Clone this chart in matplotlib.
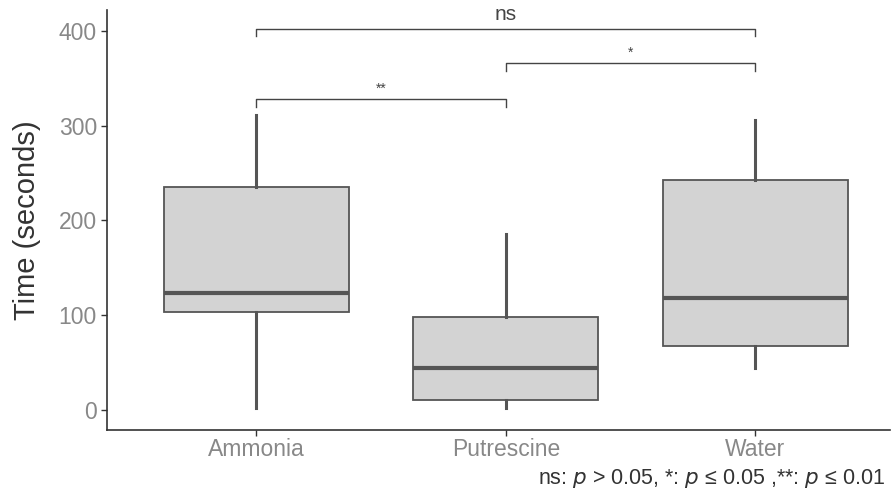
import matplotlib.pyplot as plt

plt.rcParams['font.family'] = ['Liberation Sans', 'DejaVu Sans']

# box statistics
groups = ['Ammonia', 'Putrescine', 'Water']
whis_lo = [2, 2, 44]
q1 = [103, 10.5, 67.5]
med = [123.5, 44, 118]
q3 = [235, 98, 243]
whis_hi = [311, 186, 306]

# significance brackets: (left group, right group, height, label)
pairs = [(1, 2, 328, '**'), (2, 3, 366, '*'), (1, 3, 402, 'ns')]
note = 'ns: $p$ > 0.05, *: $p$ ≤ 0.05 ,**: $p$ ≤ 0.01'

edge = '#555555'
fill = '#d3d3d3'

fig = plt.figure(figsize=(8.94, 4.94), dpi=100)
ax = fig.add_axes([0.12, 0.13, 0.876, 0.85])

stats = []
for i in range(len(groups)):
    stats.append({'whislo': whis_lo[i], 'q1': q1[i], 'med': med[i],
                  'q3': q3[i], 'whishi': whis_hi[i], 'fliers': [],
                  'label': groups[i]})

ax.bxp(stats, positions=[1, 2, 3], widths=0.74, showcaps=False,
       patch_artist=True,
       boxprops=dict(facecolor=fill, edgecolor=edge, linewidth=1.3),
       medianprops=dict(color=edge, linewidth=3),
       whiskerprops=dict(color=edge, linewidth=2.2))

for a, b, h, lab in pairs:
    ax.plot([a, a, b, b], [h - 8, h, h, h - 8], color='#444444', lw=1)
    if lab == 'ns':
        ax.text((a + b) / 2, h + 5, lab, ha='center', va='bottom',
                fontsize=15, color='#444444')
    else:
        ax.text((a + b) / 2, h + 3, lab, ha='center', va='bottom',
                fontsize=10, color='#444444')

ax.set_xlim(0.403, 3.541)
ax.set_ylim(-21, 422)
ax.set_yticks([0, 100, 200, 300, 400])
ax.set_ylabel('Time (seconds)', fontsize=21, color='#333333', labelpad=13)
ax.tick_params(axis='both', colors='#333333', labelcolor='#888888',
               labelsize=16.5, length=4, width=1)
ax.tick_params(axis='x', pad=2)
ax.spines['top'].set_visible(False)
ax.spines['right'].set_visible(False)
for s in ['left', 'bottom']:
    ax.spines[s].set_color('#333333')
    ax.spines[s].set_linewidth(1.2)

fig.text(0.99, 0.032, note, ha='right', va='center', fontsize=15.5,
         color='#333333')

fig.savefig('out.png', dpi=100)
